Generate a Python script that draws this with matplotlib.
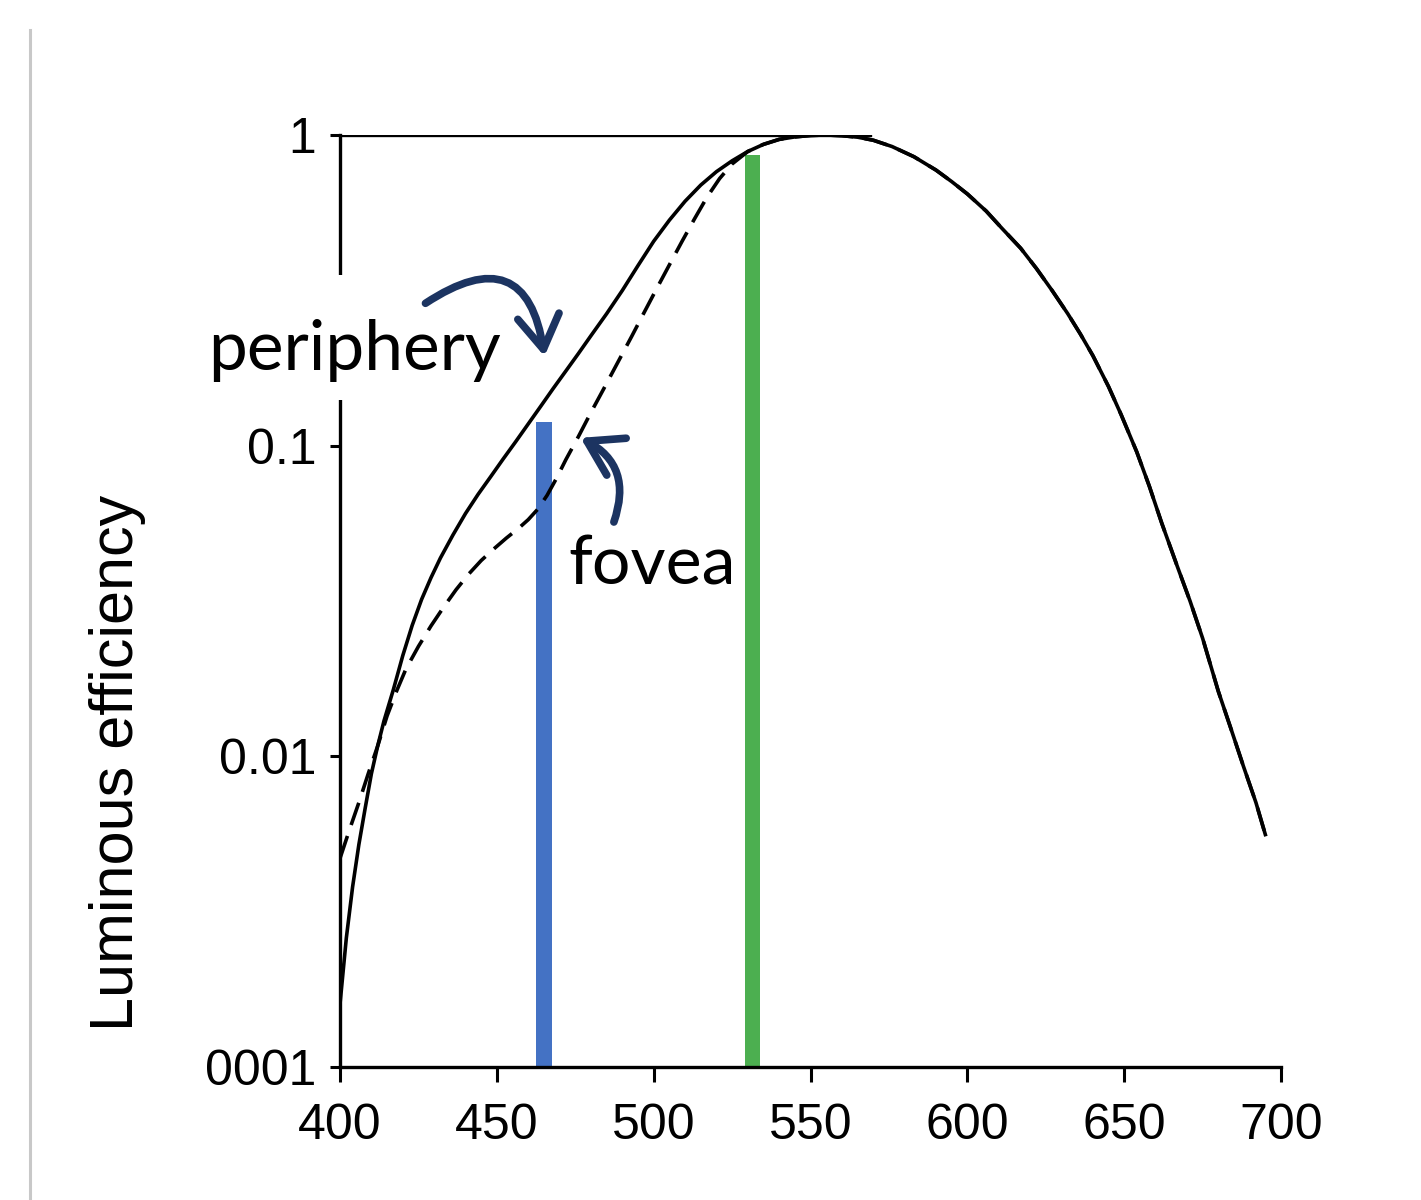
#---------------------------------------
# Luminous efficiency of the fovea and the periphery (log scale)
#---------------------------------------
import matplotlib
matplotlib.use("Agg")
import matplotlib.pyplot as plt
from matplotlib.patches import FancyArrowPatch, Rectangle
from matplotlib.lines import Line2D

# periphery (solid curve)
wl_periphery = [400, 402, 404, 406, 408, 410, 412, 414, 417, 420, 423, 426,
                429, 432, 436, 440, 444, 448, 452, 456, 460, 464, 468, 472,
                476, 480, 485, 490, 495, 500, 505, 510, 515, 520, 525, 530,
                535, 540, 545, 550, 555, 560, 565, 570, 576, 583, 590, 595,
                600, 606, 611, 617, 622, 627, 632, 636, 640, 645, 649, 654,
                658, 662, 667, 671, 675, 680, 684, 688, 692, 695]
eff_periphery = [0.0016, 0.0026, 0.0038, 0.0052, 0.0068, 0.0088, 0.0108,
                 0.013, 0.0164, 0.0211, 0.0264, 0.032, 0.0376, 0.0435, 0.0516,
                 0.0605, 0.0697, 0.0794, 0.0906, 0.103, 0.1175, 0.134, 0.153,
                 0.174, 0.198, 0.226, 0.266, 0.316, 0.38, 0.455, 0.532, 0.612,
                 0.69, 0.762, 0.826, 0.885, 0.933, 0.968, 0.986, 0.9965, 1.0,
                 0.995, 0.984, 0.962, 0.918, 0.851, 0.771, 0.708, 0.646,
                 0.569, 0.501, 0.432, 0.372, 0.316, 0.266, 0.229, 0.195,
                 0.155, 0.126, 0.0955, 0.0741, 0.0562, 0.0407, 0.0316, 0.024,
                 0.0162, 0.0123, 0.0093, 0.0071, 0.0056]

# fovea (dashed curve)
wl_fovea = [400, 403, 406, 409, 412, 415, 418, 421, 425, 429, 433, 437, 441,
            445, 449, 453, 457, 460, 463, 466, 469, 472, 476, 480, 484, 488,
            493, 497, 501, 505, 509, 513, 517, 521, 525, 530, 535, 540, 545,
            550, 555, 560, 565, 570, 576, 583, 590, 595, 600, 606, 611, 617,
            622, 627, 632, 636, 640, 645, 649, 654, 658, 662, 667, 671, 675,
            680, 684, 688, 692, 695]
eff_fovea = [0.0047, 0.0058, 0.0071, 0.0088, 0.0108, 0.0135, 0.0162, 0.0191,
             0.0226, 0.0263, 0.0302, 0.0344, 0.0386, 0.0427, 0.0465, 0.0504,
             0.0543, 0.0578, 0.0624, 0.0692, 0.0785, 0.0902, 0.107, 0.128,
             0.152, 0.181, 0.225, 0.269, 0.321, 0.382, 0.454, 0.537, 0.631,
             0.724, 0.807, 0.885, 0.933, 0.968, 0.986, 0.9965, 1.0, 0.995,
             0.984, 0.962, 0.918, 0.851, 0.771, 0.708, 0.646, 0.569, 0.501,
             0.432, 0.372, 0.316, 0.266, 0.229, 0.195, 0.155, 0.126, 0.0955,
             0.0741, 0.0562, 0.0407, 0.0316, 0.024, 0.0162, 0.0123, 0.0093,
             0.0071, 0.0056]

# the two coloured wavelength bars
bar_wl = [465, 531.5]
bar_top = [0.119, 0.86]
bar_colors = ["#4472C4", "#4CAF50"]

xticks = [400, 450, 500, 550, 600, 650, 700]
yticks = [0.001, 0.01, 0.1, 1]
ytick_labels = ["0001", "0.01", "0.1", "1"]

tick_font = "Liberation Sans"
note_font = "Lato"
navy = "#1c3461"

fig = plt.figure(figsize=(14.21, 12), dpi=100)
ax = fig.add_axes([0.2393, 0.1108, 0.6622, 0.7767])
ax.set_yscale("log")

# bars
for w, top, c in zip(bar_wl, bar_top, bar_colors):
    ax.bar(w, top - 0.001, bottom=0.001, width=5.0, color=c, zorder=1)

ax.plot(wl_periphery, eff_periphery, color="black", lw=2.6, zorder=3)
ax.plot(wl_fovea, eff_fovea, color="black", lw=2.6, ls=(0, (6.5, 3.2)), zorder=3)

# horizontal line at 1
ax.plot([400, 569], [1, 1], color="black", lw=2.4, zorder=3)

ax.set_xlim(400, 700)
ax.set_ylim(0.001, 1)
ax.set_xticks(xticks)
ax.set_xticklabels([str(t) for t in xticks], fontfamily=tick_font, fontsize=36)
ax.set_yticks(yticks)
ax.set_yticklabels(ytick_labels, fontfamily=tick_font, fontsize=36)
ax.minorticks_off()
ax.tick_params(axis="y", length=7, width=2.2, pad=10)
ax.tick_params(axis="x", length=11, width=2.2, pad=15)
for s in ["top", "right"]:
    ax.spines[s].set_visible(False)
for s in ["left", "bottom"]:
    ax.spines[s].set_linewidth(2.4)

# gap in the y axis behind the label
ax.add_patch(Rectangle((396, 0.14), 8, 0.215, facecolor="white",
                       edgecolor="none", clip_on=False, zorder=4))

# annotations
ax.text(357.9, 0.175, "periphery", fontfamily=note_font, fontsize=50,
        va="baseline", ha="left", zorder=5)
ax.text(472.7, 0.0357, "fovea", fontfamily=note_font, fontsize=49,
        va="baseline", ha="left", zorder=5)

arr1 = FancyArrowPatch((426.5, 0.284), (465.3, 0.19),
                       connectionstyle="arc3,rad=-0.8",
                       arrowstyle="->,head_length=0.8,head_width=0.5",
                       mutation_scale=30, lw=5.5, color=navy, zorder=5)
ax.add_patch(arr1)
arr2 = FancyArrowPatch((487, 0.0557), (475.9, 0.107),
                       connectionstyle="arc3,rad=0.45",
                       arrowstyle="->,head_length=0.8,head_width=0.5",
                       mutation_scale=30, lw=5.5, color=navy, zorder=5)
ax.add_patch(arr2)

fig.text(118 / 1421, 1 - 763 / 1200, "Luminous efficiency", rotation=90,
         ha="center", va="center", fontfamily=tick_font, fontsize=44)

# page edge line on the left
fig.add_artist(Line2D([30 / 1421, 30 / 1421], [0, 1 - 30 / 1200],
                      color="#c8c8c8", lw=2.2))

fig.savefig("out.png", dpi=100)
